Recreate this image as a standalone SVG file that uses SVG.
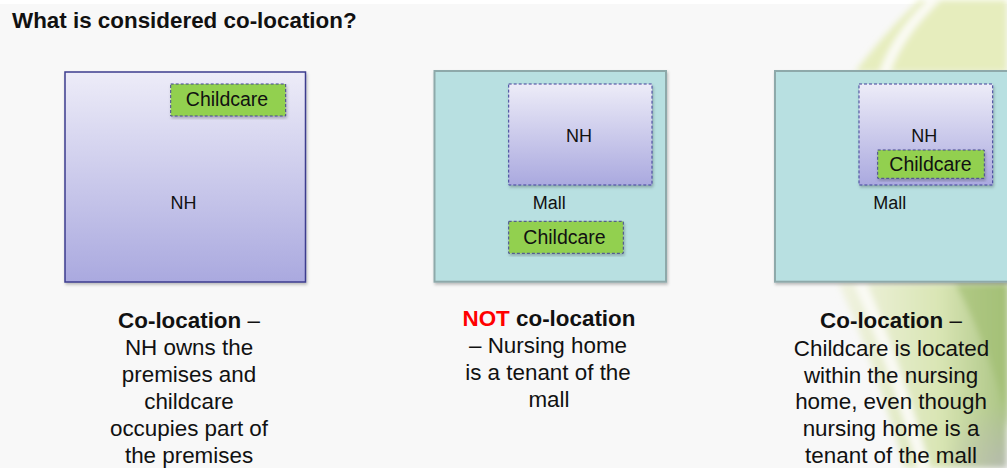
<svg xmlns="http://www.w3.org/2000/svg" width="1007" height="468" viewBox="0 0 1007 468">
  <defs>
    <style>
      .t { font-family: "Liberation Sans", Arial, sans-serif; fill: #111; }
      .lbl { font-size: 18px; }
      .cc { font-size: 19.5px; text-anchor: middle; }
      .cap { font-size: 22.4px; text-anchor: middle; }
      .b { font-weight: bold; }
      .mall { fill: #b8e0e1; stroke: #8ea9aa; stroke-width: 2; }
      .nh { fill: url(#nhGrad); }
      .nhSolid { stroke: #3c3c8e; stroke-width: 1.5; }
      .nhDash { stroke: #3e3e98; stroke-width: 1; stroke-dasharray: 3 2; }
      .child { fill: #92d050; stroke: #45458f; stroke-width: 1; stroke-dasharray: 3 2; }
    </style>
    <linearGradient id="nhGrad" x1="0" y1="0" x2="0" y2="1">
      <stop offset="0" stop-color="#edecf8"/>
      <stop offset="1" stop-color="#aaa9df"/>
    </linearGradient>
    <linearGradient id="leafGrad" x1="0" y1="0" x2="1" y2="0">
      <stop offset="0" stop-color="#f1f3e2"/>
      <stop offset="0.6" stop-color="#d9e5b4"/>
      <stop offset="1" stop-color="#aac483"/>
    </linearGradient>
    <radialGradient id="greyCorner" cx="1" cy="1" r="0.6">
      <stop offset="0" stop-color="#b8b8b8" stop-opacity="0.8"/>
      <stop offset="1" stop-color="#b8b8b8" stop-opacity="0"/>
    </radialGradient>
    <filter id="soft" x="-10%" y="-10%" width="120%" height="120%">
      <feGaussianBlur stdDeviation="3"/>
    </filter>
    <filter id="shadow" x="-5%" y="-5%" width="115%" height="115%">
      <feDropShadow dx="1" dy="2" stdDeviation="1.5" flood-color="#000" flood-opacity="0.25"/>
    </filter>
  </defs>

  <!-- page background -->
  <rect x="0" y="0" width="1007" height="468" fill="#f8f8f8"/>
  <rect x="0" y="0" width="1007" height="4" fill="#ffffff"/>

  <!-- decorative leaf swoosh, right edge -->
  <g id="leaf" filter="url(#soft)">
    <path d="M 855 72 C 875 45, 900 18, 920 0 L 1007 0 L 1007 72 Z" fill="#e6edbd"/>
    <path d="M 938 -4 C 915 18, 895 42, 884 74" fill="none" stroke="#fbfbf5" stroke-width="10"/>
    <path d="M 838 283 L 1007 283 L 1007 468 L 905 468 C 885 400, 860 330, 838 283 Z" fill="url(#leafGrad)"/>
    <path d="M 860 283 C 885 340, 905 400, 925 472" fill="none" stroke="#fafaf4" stroke-width="12"/>
    <path d="M 955 283 C 980 330, 998 380, 1010 430 L 1010 283 Z" fill="#9fbd6e" opacity="0.6"/>
    <rect x="900" y="360" width="107" height="108" fill="url(#greyCorner)"/>
  </g>

  <!-- heading -->
  <text class="t b" x="12" y="27.5" font-size="22.4">What is considered co-location?</text>

  <!-- case 1: NH owns the premises -->
  <g id="case1-nh">
    <rect class="nh nhSolid" x="65" y="72" width="240.5" height="210" filter="url(#shadow)"/>
    <text class="t lbl" x="183.5" y="209.3" text-anchor="middle">NH</text>
  </g>
  <g id="case1-childcare">
    <rect class="child" x="170.7" y="84" width="115" height="32" filter="url(#shadow)"/>
    <text class="t cc" x="227" y="106">Childcare</text>
  </g>
  <g id="case1-caption">
    <text class="t cap" x="189" y="328.3"><tspan class="b">Co-location</tspan> –</text>
    <text class="t cap" x="189" y="355.3">NH owns the</text>
    <text class="t cap" x="189" y="382.3">premises and</text>
    <text class="t cap" x="189" y="409.3">childcare</text>
    <text class="t cap" x="189" y="436.3">occupies part of</text>
    <text class="t cap" x="189" y="463.3">the premises</text>
  </g>

  <!-- case 2: NH and childcare are separate tenants of a mall -->
  <g id="case2-mall">
    <rect class="mall" x="434.5" y="71" width="231.5" height="210.7" filter="url(#shadow)"/>
    <text class="t lbl" x="532.7" y="209.3">Mall</text>
  </g>
  <g id="case2-nh">
    <rect class="nh nhDash" x="508.7" y="84" width="143.3" height="101" filter="url(#shadow)"/>
    <text class="t lbl" x="579" y="141.7" text-anchor="middle">NH</text>
  </g>
  <g id="case2-childcare">
    <rect class="child" x="508.7" y="221.3" width="114.6" height="32" filter="url(#shadow)"/>
    <text class="t cc" x="564.5" y="244.3">Childcare</text>
  </g>
  <g id="case2-caption">
    <text class="t cap b" x="549" y="326"><tspan fill="#ff0000">NOT</tspan> co-location</text>
    <text class="t cap" x="548" y="353">– Nursing home</text>
    <text class="t cap" x="548" y="380">is a tenant of the</text>
    <text class="t cap" x="549" y="407">mall</text>
  </g>

  <!-- case 3: childcare inside the NH, which rents in a mall -->
  <g id="case3-mall">
    <rect class="mall" x="775" y="71" width="234" height="210.7" filter="url(#shadow)"/>
    <text class="t lbl" x="873.3" y="209.3">Mall</text>
  </g>
  <g id="case3-nh">
    <rect class="nh nhDash" x="859" y="84" width="133.7" height="101" filter="url(#shadow)"/>
    <text class="t lbl" x="924.2" y="141.7" text-anchor="middle">NH</text>
  </g>
  <g id="case3-childcare">
    <rect class="child" x="877.7" y="150" width="106.6" height="28.3" filter="url(#shadow)"/>
    <text class="t cc" x="930.5" y="171">Childcare</text>
  </g>
  <g id="case3-caption">
    <text class="t cap" x="891" y="328.3"><tspan class="b">Co-location</tspan> –</text>
    <text class="t cap" x="891.5" y="355.5">Childcare is located</text>
    <text class="t cap" x="891" y="382.5">within the nursing</text>
    <text class="t cap" x="891" y="409.3">home, even though</text>
    <text class="t cap" x="891" y="436">nursing home is a</text>
    <text class="t cap" x="891" y="462.7">tenant of the mall</text>
  </g>

  <!-- no connecting lines in this figure -->
  <g id="connectors"/>
</svg>
